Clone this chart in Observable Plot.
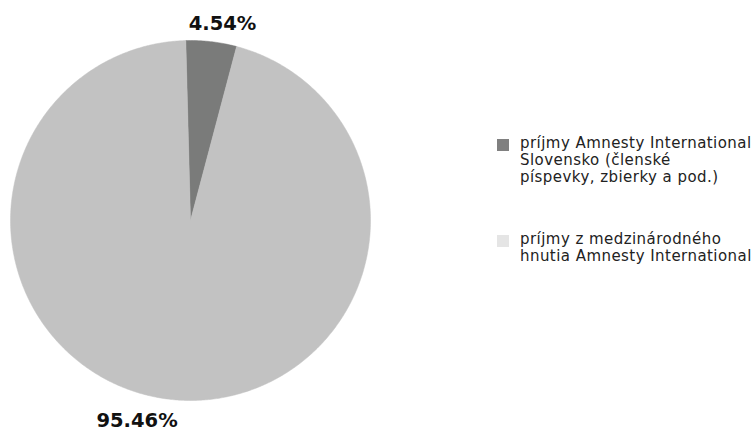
<!DOCTYPE html>
<html>
<head>
<meta charset="utf-8">
<script src="https://cdn.jsdelivr.net/npm/d3@7"></script>
<script src="https://cdn.jsdelivr.net/npm/@observablehq/plot@0.6"></script>
<style>
  html, body { margin: 0; padding: 0; background: #fff; overflow: hidden; }
  #wrap { position: relative; width: 756px; height: 432px; overflow: hidden; font-family: "DejaVu Sans", Verdana, sans-serif; }
  .item { position: absolute; display: flex; align-items: flex-start; white-space: pre; width: 300px; font-size: 15px; letter-spacing: 0.45px; line-height: 17px; color: #222; }
  .sw { width: 12px; height: 12px; margin-right: 11px; margin-top: 4px; flex: none; }
</style>
</head>
<body>
<div id="wrap"></div>
<script>
const categories = ["AI Slovensko", "medzinárodné hnutie"];
const values = [4.54, 95.46];
const valueLabels = ["4.54%", "95.46%"];
const legendLabels = [
  "príjmy Amnesty International\nSlovensko (členské\npíspevky, zbierky a pod.)",
  "príjmy z medzinárodného\nhnutia Amnesty International"
];
const sliceColors = ["#7a7b7a", "#c2c2c2"];
const legendColors = ["#808080", "#e5e5e5"];

const startDeg = -1.5;
const total = d3.sum(values);
let acc = startDeg;
const slices = values.map((v, i) => {
  const a0 = acc, a1 = acc + v / total * 360;
  acc = a1;
  return {cat: categories[i], a0, a1, mid: (a0 + a1) / 2, label: valueLabels[i]};
});
const rad = d => d * Math.PI / 180;
const poly = [];
for (const s of slices) {
  poly.push({cat: s.cat, x: 0, y: 0});
  const n = Math.max(2, Math.ceil((s.a1 - s.a0) / 0.5));
  for (let k = 0; k <= n; k++) {
    const a = rad(s.a0 + (s.a1 - s.a0) * k / n);
    poly.push({cat: s.cat, x: Math.sin(a), y: Math.cos(a)});
  }
  poly.push({cat: s.cat, x: 0, y: 0});
}
const lab = (s, r) => ({...s, x: r * Math.sin(rad(s.mid)), y: r * Math.cos(rad(s.mid))});

const chart = Plot.plot({
  width: 756, height: 432, margin: 0,
  style: {fontFamily: "DejaVu Sans, Verdana, sans-serif", background: "transparent"},
  x: {domain: [-1, 1], range: [10, 370], axis: null},
  y: {domain: [-1, 1], range: [400, 40], axis: null},
  color: {domain: categories, range: sliceColors},
  marks: [
    Plot.line(poly, {x: "x", y: "y", z: "cat", fill: "cat", stroke: "cat", strokeWidth: 0.5, curve: "linear"}),
    Plot.text([lab(slices[0], 1.1)], {x: "x", y: "y", text: "label", dx: 9, fontSize: 19.5, fontWeight: "bold", fill: "#111"}),
    Plot.text([lab(slices[1], 1.12)], {x: "x", y: "y", text: "label", dx: -30, fontSize: 19.5, fontWeight: "bold", fill: "#111"})
  ]
});
const wrap = document.getElementById("wrap");
wrap.append(chart);

const tops = [135, 231];
legendLabels.forEach((t, i) => {
  const it = document.createElement("div");
  it.className = "item";
  it.style.left = "497px";
  it.style.top = tops[i] + "px";
  const sw = document.createElement("div");
  sw.className = "sw";
  sw.style.background = legendColors[i];
  const tx = document.createElement("div");
  tx.textContent = t;
  it.append(sw, tx);
  wrap.append(it);
});
</script>
</body>
</html>
